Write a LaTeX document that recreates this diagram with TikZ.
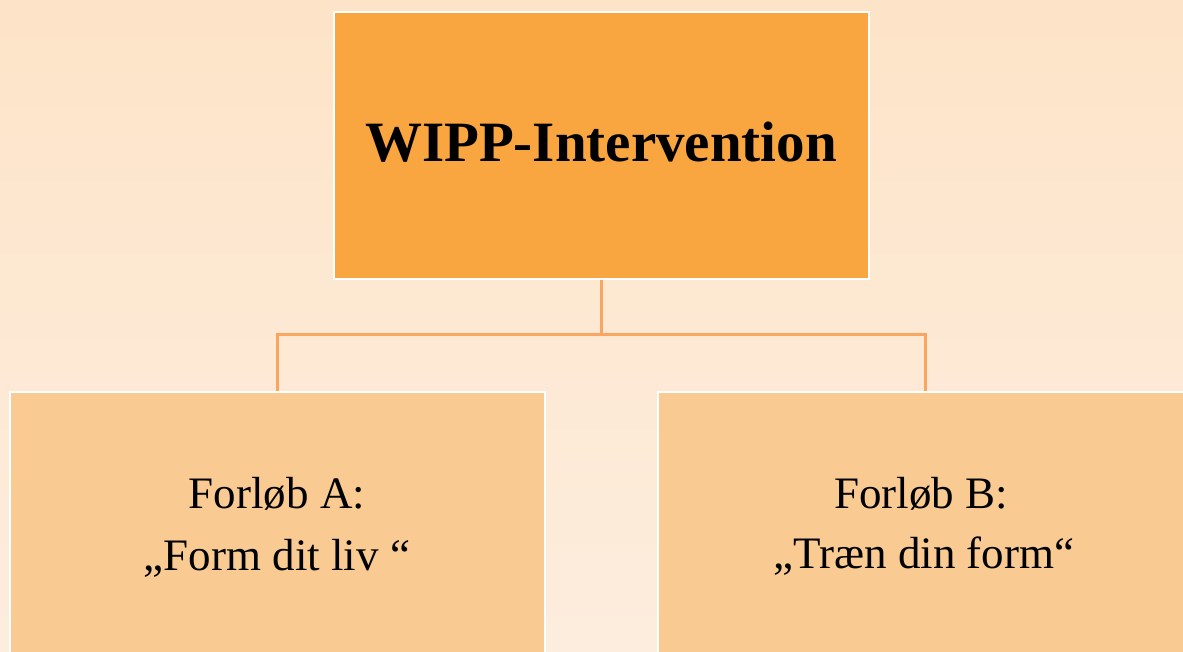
\documentclass[tikz,border=0pt]{standalone}
\usepackage{fontspec}
\setmainfont{Liberation Serif}
\definecolor{bgtop}{HTML}{FDE4C8}
\definecolor{bgbot}{HTML}{FDEDDE}
\definecolor{topfill}{HTML}{F9A540}
\definecolor{subfill}{HTML}{F9CB93}
\definecolor{linkcol}{HTML}{F9A663}
\tikzset{
  boxbase/.style={draw=white, line width=2.6pt, rectangle, inner sep=0pt},
  topbox/.style={boxbase, fill=topfill, minimum width=535pt, minimum height=267pt},
  subbox/.style={boxbase, fill=subfill, minimum width=535pt, minimum height=308pt},
  link/.style={draw=linkcol, line width=3pt},
  toptext/.style={font=\fontsize{57}{68}\selectfont\bfseries, anchor=base, inner sep=0pt},
  subtext/.style={font=\fontsize{45}{62}\selectfont, anchor=base, inner sep=0pt},
}
\begin{document}
\begin{tikzpicture}[x=1pt, y=-1pt]
\useasboundingbox (0,0) rectangle (1183,652);
\fill[top color=bgtop, bottom color=bgbot] (0,0) rectangle (1183,652);
\node[topbox] (top) at (601.5,145.5) {};
\node[subbox] (left) at (277.5,546) {};
\node[subbox] (right) at (925.5,546) {};
\node[toptext] (toplabel) at (601,162) {WIPP-Intervention};
\node[subtext] (la1) at (277,508) {Forløb A:};
\node[subtext] (la2) at (277,570) {„Form dit liv “};
\node[subtext] (rb1) at (921,508) {Forløb B:};
\node[subtext] (rb2) at (924,568) {„Træn din form“};
\coordinate (j) at (601.5,334);
\draw[link] (top.south) -- (j) -| (left.north);
\draw[link] (j) -| (right.north);
\end{tikzpicture}
\end{document}
